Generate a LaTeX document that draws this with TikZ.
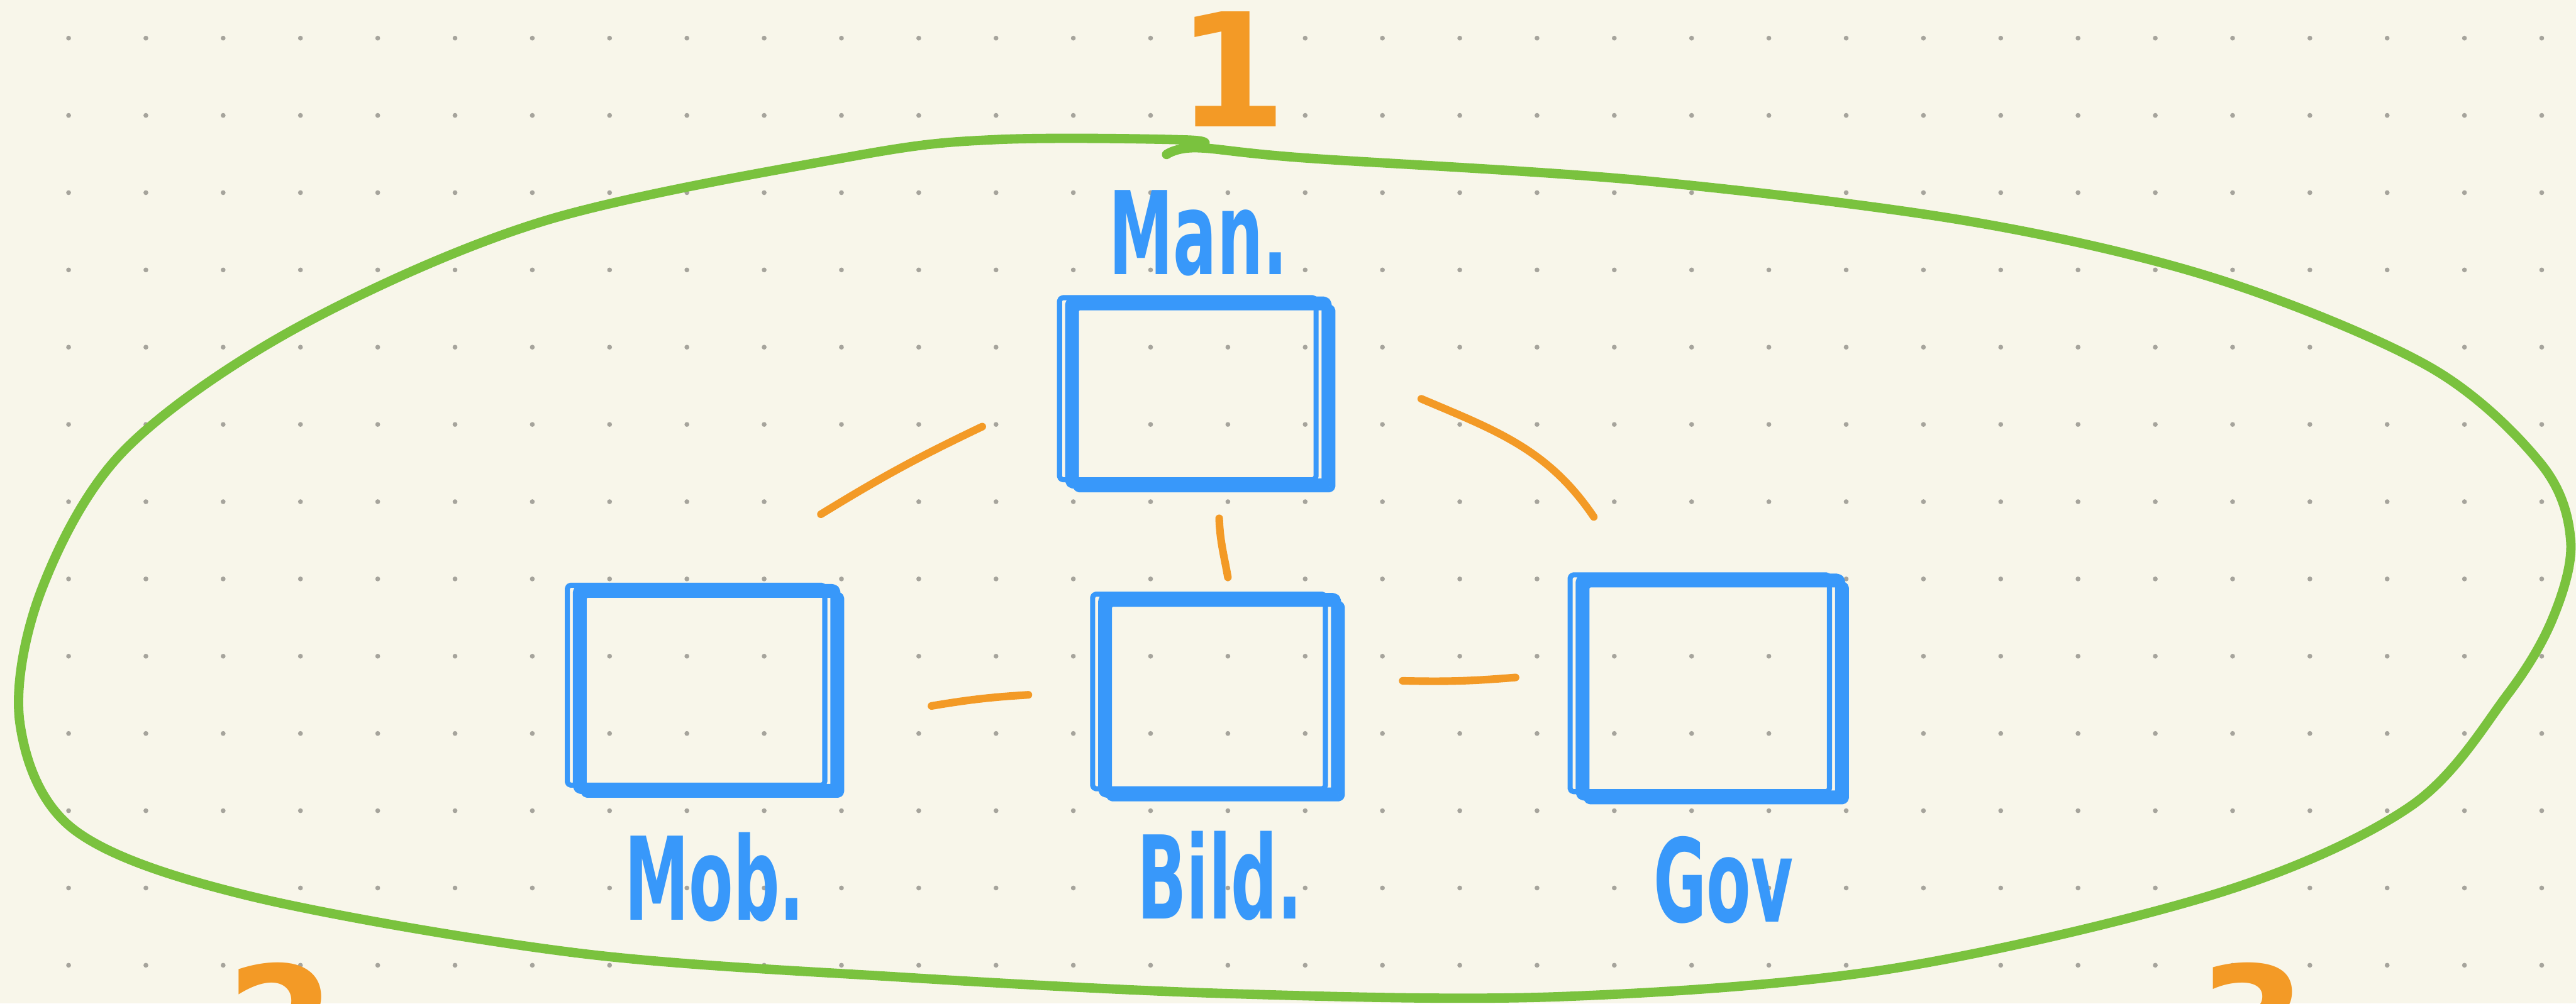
\documentclass[tikz,border=0pt]{standalone}
\usepackage{fontspec}
\setmainfont{DejaVu Sans}
\newfontfamily\handfont[FakeStretch=0.56]{DejaVu Sans Bold}
\newfontfamily\numfont{DejaVu Sans Bold}
\usetikzlibrary{positioning}
\definecolor{paper}{RGB}{248,246,234}
\definecolor{dotgray}{RGB}{166,164,156}
\definecolor{penblue}{RGB}{56,152,250}
\definecolor{penorange}{RGB}{243,154,38}
\definecolor{pengreen}{RGB}{122,194,62}
\tikzset{
  sector/.style={draw=penblue, line width=6pt, line join=round, rounded corners=2pt,
    inner sep=0pt, outer sep=0pt,
    preaction={draw=penblue, line width=3pt, transform canvas={shift={(-0.22,0.08)}}},
    preaction={draw=penblue, line width=3.5pt, transform canvas={shift={(0.12,-0.12)}}}},
  boxlabel/.style={text=penblue, font=\handfont\fontsize{68}{68}\selectfont,
    inner sep=0pt, outer sep=0pt},
  link/.style={draw=penorange, line width=4.5pt, line cap=round},
  numeral/.style={text=penorange, font=\numfont\fontsize{93}{93}\selectfont,
    inner sep=0pt, anchor=north},
  hull/.style={draw=pengreen, line width=5.5pt, line cap=round, line join=round}}

\begin{document}
\begin{tikzpicture}
  \fill[paper] (0,0) rectangle (53.33,-20.78);
  \clip (0,0) rectangle (53.33,-20.78);
  % dotted paper
  \foreach \i in {0,...,32}
    \foreach \j in {0,...,12}
      \fill[dotgray] (1.42+1.6*\i,-0.79-1.6*\j) circle (0.05);

  % the green ring round everything
  \draw[hull] plot[smooth, tension=0.55] coordinates {
    (24.15,-3.20) (24.78,-3.06) (27.00,-3.27) (34.01,-3.74) (40.81,-4.59)
    (45.91,-5.78) (50.30,-7.60) (52.60,-9.60) (53.22,-11.20) (52.85,-12.80)
    (51.90,-14.40) (49.90,-16.70) (45.91,-18.50) (39.11,-20.07)
    (32.31,-20.64) (25.51,-20.58) (18.71,-20.24) (11.90,-19.73) (5.10,-18.54)
    (1.53,-17.18) (0.41,-14.96) (0.85,-12.24) (2.55,-9.35) (6.12,-6.80)
    (11.22,-4.59) (17.69,-3.23) (20.64,-2.89) (24.61,-2.90) (24.80,-3.05)};

  \node[sector, minimum width=5.31cm, minimum height=3.77cm] (man) at (24.81,-8.13) {};
  \node[sector, minimum width=5.33cm, minimum height=4.14cm] (mob) at (14.63,-14.27) {};
  \node[sector, minimum width=4.82cm, minimum height=4.03cm] (bild) at (25.25,-14.40) {};
  \node[sector, minimum width=5.37cm, minimum height=4.49cm] (gov) at (35.41,-14.23) {};

  \node[boxlabel, above=0.53cm of man] (manlbl) {Man.};
  \node[boxlabel, below=0.9cm of mob, xshift=0.16cm] (moblbl) {Mob.};
  \node[boxlabel, below=0.8cm of bild] (bildlbl) {Bild.};
  \node[boxlabel, below=0.85cm of gov, xshift=0.27cm] (govlbl) {Gov};

  % links
  \draw[link] ([shift={(-0.30,1.55)}]mob.north east) to[bend left=3] ([shift={(-1.82,1.18)}]man.south west);
  \draw[link] ([shift={(1.96,-0.13)}]man.east) to[out=-23,in=124] ([shift={(0.27,1.28)}]gov.north west);
  \draw[link] ([shift={(0.43,-0.72)}]man.south) to[out=-88,in=100] ([shift={(0.17,0.43)}]bild.north);
  \draw[link] ([shift={(1.99,-0.35)}]mob.east) to[bend left=3] ([shift={(-1.55,0.01)}]bild.west);
  \draw[link] ([shift={(1.38,0.30)}]bild.east) to[bend right=3] ([shift={(-1.35,0.20)}]gov.west);

  \node[numeral] (one) at (25.50,-0.23) {1};
  \node[numeral] (two) at (5.82,-19.93) {2};
  \node[numeral] (three) at (46.63,-19.93) {3};
\end{tikzpicture}
\end{document}
